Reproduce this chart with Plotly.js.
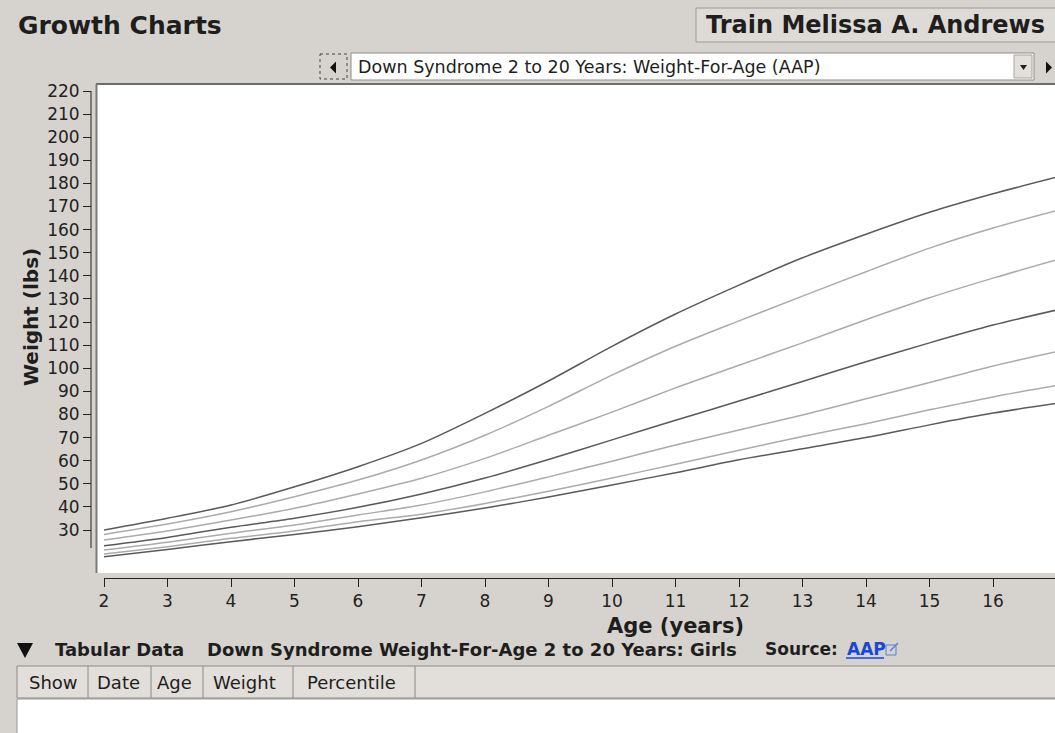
<!DOCTYPE html>
<html><head><meta charset="utf-8">
<script src="https://cdn.plot.ly/plotly-3.0.1.min.js"></script>
<style>html,body{margin:0;padding:0;background:#d6d3ce;overflow:hidden}</style>
</head><body><div id="chart" style="width:1055px;height:733px"></div>
<script>
// ---- data ----
const ages = [2,3,4,5,6,7,8,9,10,11,12,13,14,15,16,17];
const p5  = [18.4,21.6,24.9,28.1,31.4,35.3,39.5,44.3,49.5,54.8,60.4,65.2,70.0,75.5,80.6,84.8];
const p10 = [19.6,22.8,26.4,29.6,33.6,36.8,41.5,46.8,52.5,58.5,64.5,70.5,76.0,82.0,87.6,92.5];
const p25 = [21.3,24.7,28.6,32.2,36.5,40.8,46.5,53.0,59.8,66.8,73.3,79.8,86.8,93.8,101.0,107.2];
const p50 = [23.2,26.8,31.2,35.1,39.8,45.6,52.5,60.5,69.0,77.5,85.8,94.3,102.8,111.0,118.7,125.2];
const p75 = [25.7,29.6,34.3,39.4,45.6,52.4,61.0,71.0,81.0,91.5,101.3,111.0,121.0,130.5,139.0,146.9];
const p90 = [28.1,32.6,37.9,44.4,51.6,60.3,71.0,83.5,97.0,109.5,120.5,131.2,141.8,152.0,160.7,168.2];
const p95 = [30.0,35.1,40.8,48.7,57.4,67.5,80.5,94.5,109.5,123.5,136.0,147.8,158.0,167.5,175.5,182.7];
const percentileNames = ['5th','10th','25th','50th','75th','90th','95th'];
const xTickVals = [2,3,4,5,6,7,8,9,10,11,12,13,14,15,16,17,18,19,20];
const yTickVals = [30,40,50,60,70,80,90,100,110,120,130,140,150,160,170,180,190,200,210,220];
const xTitle = 'Age (years)';
const yTitle = 'Weight (lbs)';
const pageTitle = 'Growth Charts';
const patientName = 'Train Melissa A. Andrews';
const chartChoice = 'Down Syndrome 2 to 20 Years: Weight-For-Age (AAP)';
const tableLabel = 'Tabular Data';
const tableTitle = 'Down Syndrome Weight-For-Age 2 to 20 Years: Girls';
const sourceLabel = 'Source:';
const sourceLink = 'AAP';
const tableColumns = ['Show','Date','Age','Weight','Percentile'];

// ---- layout helpers (pixels -> paper) ----
const W = 1055, H = 733;
const PX = x => x / W;
const PY = y => 1 - y / H;
const FONT = 'DejaVu Sans, Verdana, sans-serif';
const DARK = '#5a5a5a', LIGHT = '#ababab';
const X0PX = 104, XSCALE = 63.5;          // age 2 at 104px, 63.5 px per year
const Y30PX = 530, YSCALE = (530 - 91) / 190; // px per lb
const BOX_TOP = 85, BOX_BOT = 573;

const series = [p5, p10, p25, p50, p75, p90, p95];
const traces = series.map((s, i) => ({
  x: ages, y: s, type: 'scatter', mode: 'lines', name: percentileNames[i],
  line: {color: (i === 0 || i === 3 || i === 6) ? DARK : LIGHT, width: 1.5, shape: 'spline', smoothing: 0.8},
  hoverinfo: 'skip', showlegend: false
}));

const xRange = [2, 2 + (W - X0PX) / XSCALE];
const yRange = [30 - (BOX_BOT - Y30PX) / YSCALE, 30 + (Y30PX - BOX_TOP) / YSCALE];

const shapes = [];
const annotations = [];
function rect(x0,y0,x1,y1,fill,line,lw,extra){shapes.push(Object.assign({type:'rect',xref:'paper',yref:'paper',x0:PX(x0),x1:PX(x1),y0:PY(y0),y1:PY(y1),fillcolor:fill,line:{color:line||'rgba(0,0,0,0)',width:lw||0},layer:'below'},extra||{}));}
function seg(x0,y0,x1,y1,color,w,extra){shapes.push(Object.assign({type:'line',xref:'paper',yref:'paper',x0:PX(x0),x1:PX(x1),y0:PY(y0),y1:PY(y1),line:{color:color,width:w||1}},extra||{}));}
function tri(pts,color){shapes.push({type:'path',xref:'paper',yref:'paper',path:'M '+pts.map(p=>PX(p[0])+','+PY(p[1])).join(' L ')+' Z',fillcolor:color,line:{width:0}});}
function txt(x,y,t,size,opts){annotations.push(Object.assign({xref:'paper',yref:'paper',x:PX(x),y:PY(y),text:t,showarrow:false,xanchor:'left',yanchor:'middle',font:{family:FONT,size:size,color:'#1e1e1e'}},opts||{}));}

// plot box
rect(96, BOX_TOP-1, 1070, BOX_BOT, '#ffffff');
seg(96, BOX_TOP-1, 1060, BOX_TOP-1, '#6e6e6e', 2);
seg(96.5, BOX_TOP-1, 96.5, BOX_BOT, '#7a7a7a', 2);
// y axis line (from below 30 up to 220)
shapes.push({type:'line',xref:'paper',yref:'y',x0:PX(91),x1:PX(91),y0:22.2,y1:220,line:{color:'#222',width:1}});

// header
txt(16, 25, '<b>'+pageTitle+'</b>', 25);
rect(696, 8, 1075, 42, '#dedbd6', '#9c9a96', 1);
txt(704, 25, '<b>'+patientName+'</b>', 24);
// chart selector row
rect(320, 54, 347, 79, 'rgba(0,0,0,0)', '#444', 1, {line:{color:'#444',width:1,dash:'dot'}});
tri([[330,67.5],[336,61.5],[336,73.5]], '#111');
rect(351, 53, 1034, 80, '#ffffff', '#8e8c88', 1);
txt(356, 67, chartChoice, 17.5);
rect(1014, 55, 1032, 78, '#e3e0db', '#a8a6a2', 1);
tri([[1020,65],[1027,65],[1023.5,70]], '#222');
tri([[1046,61.5],[1046,73.5],[1052,67.5]], '#111');

// axis titles
annotations.push({xref:'x',yref:'paper',x:11,y:PY(626),text:'<b>'+xTitle+'</b>',showarrow:false,xanchor:'center',yanchor:'middle',font:{family:FONT,size:21,color:'#1e1e1e'}});
annotations.push({xref:'paper',yref:'paper',x:PX(31),y:PY(317),text:'<b>'+yTitle+'</b>',showarrow:false,textangle:-90,xanchor:'center',yanchor:'middle',font:{family:FONT,size:20,color:'#1e1e1e'}});

// tabular data row
tri([[17,643],[33,643],[25,658]], '#111');
txt(53, 649, '<b>'+tableLabel+'</b>', 18);
txt(205, 649, '<b>'+tableTitle+'</b>', 18);
txt(763, 649, '<b>'+sourceLabel+'</b>', 17);
txt(845, 649, '<b>'+sourceLink+'</b>', 17, {font:{family:FONT,size:17,color:'#1747d6'}});
seg(846, 658, 884, 658, '#1747d6', 1.5);
rect(886, 645, 896, 655, 'rgba(0,0,0,0)', '#5b7fd8', 1);
seg(890, 651, 898, 643, '#5b7fd8', 1.5);

// table header
rect(17, 666, 1070, 698, '#e2dfda', '#8c8a86', 1);
const colEdges = [17, 88, 151, 203, 293, 415];
const colTextX = [27, 95, 155, 211, 305];
colEdges.slice(1).forEach(x => seg(x, 666, x, 698, '#8c8a86', 1));
tableColumns.forEach((c, i) => txt(colTextX[i], 682, c, 18));
rect(17, 699, 1070, 745, '#ffffff', '#9a9894', 1);

const layout = {
  width: W, height: H,
  margin: {l:0, r:0, t:0, b:0, pad:0},
  paper_bgcolor: '#d6d3ce', plot_bgcolor: 'rgba(0,0,0,0)',
  showlegend: false, hovermode: false,
  xaxis: {
    domain: [PX(X0PX), 1], range: xRange, anchor: 'free', position: PY(578),
    showline: true, linecolor: '#222', linewidth: 1, showgrid: false, zeroline: false,
    ticks: 'outside', ticklen: 8, tickcolor: '#222', tickwidth: 1,
    tickmode: 'array', tickvals: xTickVals,
    tickfont: {family: FONT, size: 17, color: '#222'}
  },
  yaxis: {
    domain: [PY(BOX_BOT), PY(BOX_TOP)], range: yRange, anchor: 'free', position: PX(91),
    showline: false, showgrid: false, zeroline: false,
    ticks: 'outside', ticklen: 8, tickcolor: '#222', tickwidth: 1,
    tickmode: 'array', tickvals: yTickVals,
    tickfont: {family: FONT, size: 17, color: '#222'}
  },
  shapes: shapes,
  annotations: annotations
};
Plotly.newPlot('chart', traces, layout, {staticPlot: true, displayModeBar: false});
</script></body></html>
